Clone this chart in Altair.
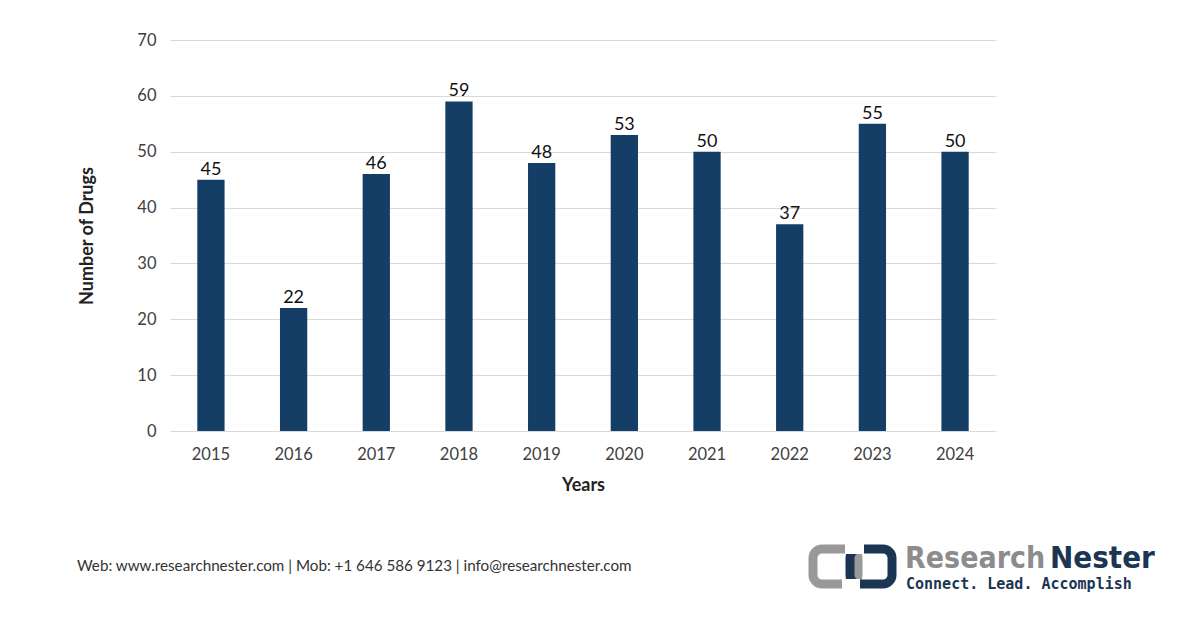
import altair as alt
import pandas as pd

years = ["2015", "2016", "2017", "2018", "2019", "2020", "2021", "2022", "2023", "2024"]
drugs = [45, 22, 46, 59, 48, 53, 50, 37, 55, 50]
y_ticks = [0, 10, 20, 30, 40, 50, 60, 70]

df = pd.DataFrame({"Year": years, "Drugs": drugs})

FONT = "Lato"
NAVY = "#153e67"
LABEL = "#404040"

base = alt.Chart(df).encode(
    x=alt.X("Year:N", sort=years,
            scale=alt.Scale(paddingInner=0.67, paddingOuter=0.33),
            axis=alt.Axis(title="Years", labelAngle=0, labelFontSize=16.5, labelColor=LABEL,
                          labelFont=FONT, labelPadding=15, ticks=False, domain=False,
                          titleFont=FONT, titleFontSize=18, titleFontWeight="bold",
                          titleColor="#222222", titlePadding=14)),
)

bars = base.mark_bar(color=NAVY).encode(
    y=alt.Y("Drugs:Q", scale=alt.Scale(domain=[0, 70]),
            axis=alt.Axis(title="Number of Drugs", values=y_ticks, labelFontSize=16.5,
                          labelColor=LABEL, labelFont=FONT, labelPadding=14, ticks=False,
                          domain=False, gridColor="#d9d9d9", gridWidth=1,
                          titleFont=FONT, titleFontSize=18, titleFontWeight="bold",
                          titleColor="#222222", titlePadding=40)),
)

labels = base.mark_text(dy=-10, fontSize=18, font=FONT, color="#111111").encode(
    y=alt.Y("Drugs:Q"),
    text=alt.Text("Drugs:Q"),
)

footer = alt.Chart(pd.DataFrame({"t": ["Web: www.researchnester.com | Mob: +1 646 586 9123 | info@researchnester.com"]})).mark_text(
    align="left", baseline="middle", fontSize=15.2, font=FONT, color="#333333"
).encode(x=alt.value(-93), y=alt.value(526), text="t:N")

# logo icon
icon_gray = alt.Chart(pd.DataFrame({"a": [0]})).mark_rect(
    fill=None, stroke="#999999", strokeWidth=9, cornerRadius=9
).encode(x=alt.value(643), x2=alt.value(688), y=alt.value(509), y2=alt.value(544))
icon_navy = alt.Chart(pd.DataFrame({"a": [0]})).mark_rect(
    fill=None, stroke="#1b3552", strokeWidth=9, cornerRadius=9
).encode(x=alt.value(680), x2=alt.value(722), y=alt.value(509), y2=alt.value(544))
gap1 = alt.Chart(pd.DataFrame({"a": [0]})).mark_rect(fill="white").encode(
    x=alt.value(675), x2=alt.value(694), y=alt.value(503), y2=alt.value(514))
gap2 = alt.Chart(pd.DataFrame({"a": [0]})).mark_rect(fill="white").encode(
    x=alt.value(672), x2=alt.value(690), y=alt.value(539), y2=alt.value(550))

brand1 = alt.Chart(pd.DataFrame({"t": ["Research"]})).mark_text(
    align="left", baseline="alphabetic", fontSize=30, font="DejaVu Sans Condensed",
    fontWeight="bold", color="#8c8c8c"
).encode(x=alt.value(735), y=alt.value(528), text="t:N")
brand2 = alt.Chart(pd.DataFrame({"t": ["Nester"]})).mark_text(
    align="left", baseline="alphabetic", fontSize=31, font="DejaVu Sans Condensed",
    fontWeight="bold", color="#1b3552"
).encode(x=alt.value(880), y=alt.value(528), text="t:N")
tagline = alt.Chart(pd.DataFrame({"t": ["Connect. Lead. Accomplish"]})).mark_text(
    align="left", baseline="alphabetic", fontSize=15, font="DejaVu Sans Mono",
    fontWeight="bold", color="#1b3552"
).encode(x=alt.value(736), y=alt.value(549), text="t:N")

chart = alt.layer(bars, labels, footer, icon_gray, icon_navy, gap1, gap2, brand1, brand2, tagline).properties(
    width=826, height=391,
    padding={"left": 162, "top": 32, "right": 196, "bottom": 189},
    autosize=alt.AutoSizeParams(type="none"),
    background="white",
).configure_view(stroke=None)

chart.save("out.html", embed_options={"renderer": "svg", "actions": False})
